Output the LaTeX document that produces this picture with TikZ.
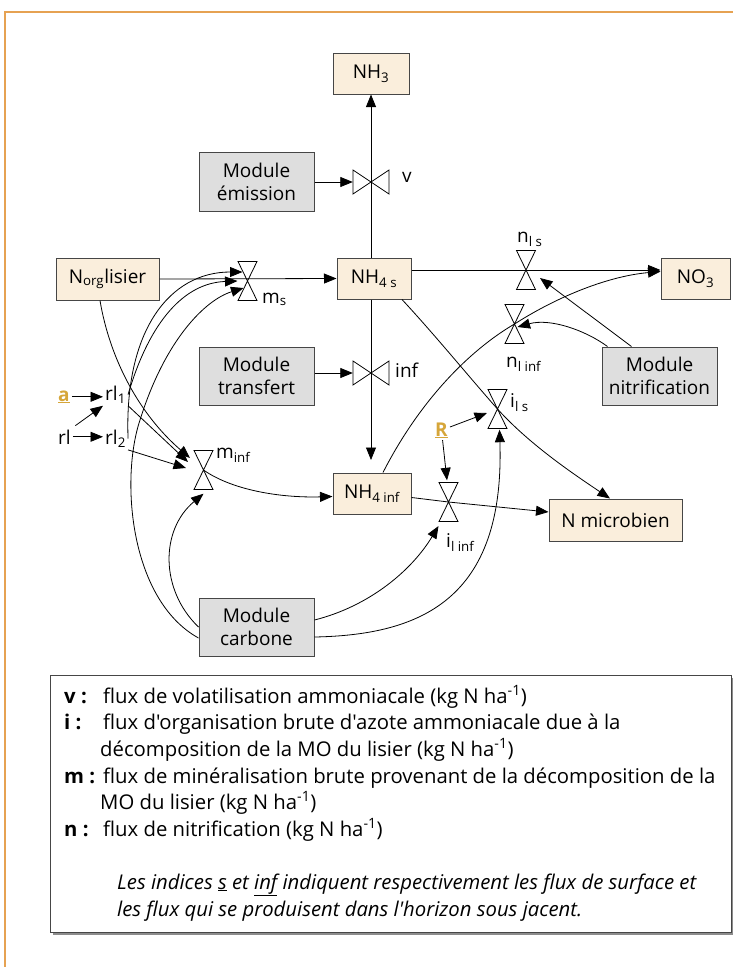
\documentclass[tikz,border=0pt]{standalone}
\usepackage{fontspec}
\setmainfont{Open Sans}[Ligatures=TeXOff]
\usetikzlibrary{arrows.meta}
\definecolor{beige}{RGB}{250,238,220}
\definecolor{modgray}{RGB}{222,222,222}
\definecolor{frameorange}{RGB}{230,162,82}
\definecolor{gold}{RGB}{214,166,58}
\definecolor{boxline}{RGB}{70,70,70}
\newcommand\sbs[1]{\textsubscript{#1}}
\newcommand\valveV[1]{\draw[valveline,shift={(#1.center)}] (-9.5,-19.5) -- (9.5,-19.5) -- (0,0) -- cycle (-9.5,19.5) -- (9.5,19.5) -- (0,0) -- cycle;}
\newcommand\valveH[1]{\draw[valveline,shift={(#1.center)}] (-18,-12) -- (-18,12) -- (0,0) -- cycle (18,-12) -- (18,12) -- (0,0) -- cycle;}
\begin{document}
\begin{tikzpicture}[x=1pt,y=-1pt,
  font=\fontsize{19}{23}\selectfont,
  pool/.style={draw=boxline, line width=1pt, fill=beige, inner sep=0pt, align=center},
  module/.style={draw=boxline, line width=1pt, fill=modgray, inner sep=0pt, align=center, minimum width=115pt, minimum height=58pt},
  flow/.style={-{Triangle[length=12.5pt,width=10pt]}, line width=0.8pt},
  valveline/.style={line width=0.8pt, draw=black},
  valvev/.style={minimum width=19pt, minimum height=39pt, inner sep=0pt, draw=none},
  valveh/.style={minimum width=36pt, minimum height=24pt, inner sep=0pt, draw=none},
  lab/.style={inner sep=0pt, anchor=base west},
  small/.style={inner sep=2pt, anchor=base west},
  goldtxt/.style={inner sep=2pt, anchor=base west, text=gold, font=\fontsize{19}{23}\selectfont\bfseries},
  legtxt/.style={inner sep=0pt, anchor=base west, font=\fontsize{20.3}{24}\selectfont},
  leglab/.style={inner sep=0pt, anchor=base west, font=\fontsize{20.3}{24}\selectfont\bfseries}
]
\useasboundingbox (0,0) rectangle (733,967);
% frame
\draw[frameorange, line width=1.5pt] (733,12) -- (5,12) -- (5,967);

% pools and modules
\node[pool, minimum width=76pt, minimum height=41pt] (nh3) at (371,73.5) {NH\sbs{3}};
\node[module, minimum height=59pt] (emis) at (256.5,181.5) {Module\\émission};
\node[pool, minimum width=103pt, minimum height=42pt] (norg) at (107.5,279) {N\sbs{org}lisier};
\node[pool, minimum width=74pt, minimum height=41pt] (nh4s) at (374,278.5) {NH\sbs{4 s}};
\node[pool, minimum width=69pt, minimum height=41pt] (no3) at (695.5,278.5) {NO\sbs{3}};
\node[module] (trans) at (256.5,376) {Module\\transfert};
\node[module] (nit) at (659.5,376) {Module\\nitrification};
\node[pool, minimum width=78pt, minimum height=41pt] (nh4i) at (372,493.5) {NH\sbs{4 inf}};
\node[pool, minimum width=133pt, minimum height=42pt] (nmic) at (615.5,520) {N microbien};
\node[module] (carb) at (256.5,627) {Module\\carbone};

% valves (anchors)
\node[valveh] (vv) at (371,182) {};
\node[valveh] (infv) at (371,373) {};
\node[valvev] (ms) at (247.5,281) {};
\node[valvev] (minf) at (203.5,470) {};
\node[valvev] (nls) at (526,270) {};
\node[valvev] (nlinf) at (514.5,324) {};
\node[valvev] (ils) at (497.5,409) {};
\node[valvev] (ilinf) at (448.5,502) {};

% small text nodes
\node[goldtxt] (a) at (56,401) {\underline{a}};
\node[small] (rl) at (56,444) {rl};
\node[small] (rl1) at (103,400) {rl\sbs{1}};
\node[small] (rl2) at (103,444) {rl\sbs{2}};
\node[goldtxt] (R) at (433,436) {\underline{R}};

% valve labels
\node[lab] (lv) at (402,182) {v};
\node[lab] (linf) at (395,377) {inf};
\node[lab] (lms) at (262,303) {m\sbs{s}};
\node[lab] (lminf) at (216,458) {m\sbs{inf}};
\node[lab] (lnls) at (517,242) {n\sbs{l s}};
\node[lab] (lnlinf) at (506,367) {n\sbs{l inf}};
\node[lab] (lils) at (510,407) {i\sbs{l s}};
\node[lab] (lilinf) at (446,547) {i\sbs{l inf}};

% main flows
\draw[flow] (nh4s.north -| vv) -- (nh3.south);
\draw[flow, shorten >=12.5pt] (nh4s.south -| infv) -- (nh4i.north -| infv);
\draw[flow] (norg.east) -- (nh4s.west);
\draw[flow] ([yshift=8.5pt]nh4s.east) -- ([yshift=8.5pt]no3.west);
\draw[flow] ([xshift=11pt]nh4i.north) .. controls (420,400) and (470,350) .. (nlinf.center) .. controls (560,295) and (610,276) .. ([yshift=7pt]no3.west);
\draw[flow] ([xshift=28pt]nh4s.south) .. controls (435,335) and (470,378) .. (ils.center) .. controls (530,445) and (575,475) .. ([xshift=-5.5pt]nmic.north);
\draw[flow] ([yshift=-4pt]nh4i.east) -- (ilinf.center) -- ([yshift=8pt]nmic.west);
\draw[flow] ([xshift=-7.5pt]norg.south) .. controls (110,360) and (140,415) .. ([xshift=-13.5pt,yshift=12pt]minf.center);
\draw[flow] (minf.center) .. controls (232,490) and (280,498) .. ([yshift=-3pt]nh4i.west);

% module influences
\draw[flow] (emis.east |- vv) -- (vv.west);
\draw[flow] (trans.east |- infv) -- (infv.west);
\draw[flow] ([xshift=30pt]nit.north west) -- ([xshift=14pt,yshift=-8pt]nls.center);
\draw[flow] ([xshift=6pt]nit.north west) .. controls (585,330) and (550,318) .. ([xshift=3pt,yshift=-3pt]nlinf.center);
\draw[flow] ([yshift=-11pt]carb.west) .. controls (130,600) and (120,480) .. (140,420) .. controls (165,340) and (205,300) .. ([xshift=-4pt,yshift=-7pt]ms.center);
\draw[flow] (carb.west) .. controls (160,590) and (160,530) .. ([yshift=-4pt]minf.south);
\draw[flow] ([yshift=7pt]carb.east) .. controls (370,606) and (412,570) .. ([xshift=-10pt,yshift=-24pt]ilinf.center);
\draw[flow] ([yshift=-10pt]carb.east) .. controls (420,635) and (505,600) .. ([xshift=2pt,yshift=-1pt]ils.south);

% parameters
\draw[flow] (a.east) -- (a.east -| rl1.west);
\draw[flow] (rl.east) -- (rl.east -| rl2.west);
\draw[flow, shorten <=3pt] (rl.north east) -- (rl1.south west);
\draw[flow] (rl2.east) .. controls (124,330) and (170,272) .. ([xshift=-5pt,yshift=9pt]ms.center);
\draw[flow] (rl1.east) .. controls (150,320) and (185,283) .. ([xshift=-10pt]ms.center);
\draw[flow] (rl1.south east) -- ([xshift=-15.5pt,yshift=8pt]minf.center);
\draw[flow] (rl2.south east) -- ([xshift=-17.5pt,yshift=2pt]minf.center);
\draw[flow] (R) -- ([xshift=-10.5pt,yshift=-4pt]ils.center);
\draw[flow] (R) -- ([xshift=-1.5pt,yshift=2pt]ilinf.north);

% valves
\valveH{vv}
\valveH{infv}
\valveV{ms}
\valveV{minf}
\valveV{nls}
\valveV{nlinf}
\valveV{ils}
\valveV{ilinf}

% legend
\fill[black!45] (53,678) rectangle (733,935);
\node[draw=boxline, line width=1pt, fill=white, minimum width=681pt, minimum height=257pt, anchor=north west, inner sep=0pt] (legbox) at (50,675) {};
\node[leglab] (k1) at (64,703) {v :};
\node[legtxt] (t1) at (103,703) {flux de volatilisation ammoniacale (kg N ha\textsuperscript{-1})};
\node[leglab] (k2) at (64,729.6) {i :};
\node[legtxt] (t2) at (103,729.6) {flux d'organisation brute d'azote ammoniacale due à la};
\node[legtxt] (t3) at (100,756) {décomposition de la MO du lisier (kg N ha\textsuperscript{-1})};
\node[leglab] (k4) at (64,783) {m :};
\node[legtxt] (t4) at (103,783) {flux de minéralisation brute provenant de la décomposition de la};
\node[legtxt] (t5) at (100,809.5) {MO du lisier (kg N ha\textsuperscript{-1})};
\node[leglab] (k6) at (64,836) {n :};
\node[legtxt] (t6) at (103,836) {flux de nitrification (kg N ha\textsuperscript{-1})};
\node[legtxt, font=\fontsize{20.3}{24}\selectfont\itshape] (t7) at (117,889) {Les indices \underline{s} et \underline{inf} indiquent respectivement les flux de surface et};
\node[legtxt, font=\fontsize{20.3}{24}\selectfont\itshape] (t8) at (117,916) {les flux qui se produisent dans l'horizon sous jacent.};
\end{tikzpicture}
\end{document}
